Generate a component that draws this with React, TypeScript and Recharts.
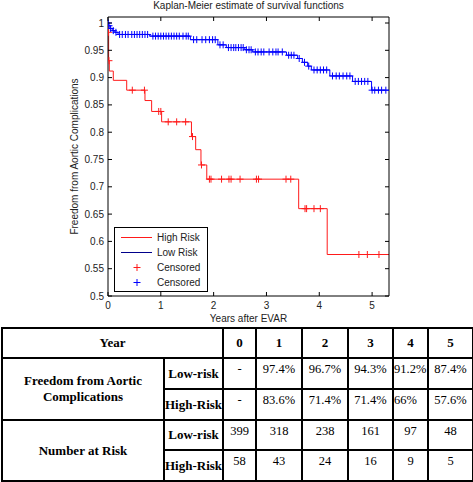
import React from 'react';
import { ComposedChart, Line, Scatter, XAxis, YAxis, Legend, Label } from 'recharts';

const yearTicks = [0, 1, 2, 3, 4, 5];
const survivalTicks = [0.5, 0.55, 0.6, 0.65, 0.7, 0.75, 0.8, 0.85, 0.9, 0.95, 1];

// Kaplan-Meier steps
const lowRiskTimes = [0, 0.01, 0.04, 0.08, 0.13, 0.19, 0.79, 1.56, 2.08, 2.24, 2.59, 2.74, 3.38, 3.59, 3.68, 3.78, 3.85, 4.2, 4.63, 4.99, 5.32];
const lowRiskSurv = [1, 0.995, 0.99, 0.986, 0.983, 0.979, 0.976, 0.9695, 0.96, 0.955, 0.951, 0.947, 0.941, 0.935, 0.928, 0.921, 0.914, 0.903, 0.893, 0.877, 0.877];

const highRiskTimes = [0, 0.005, 0.012, 0.025, 0.1, 0.354, 0.7, 0.826, 1.015, 1.58, 1.66, 1.76, 1.87, 3.61, 4.15, 5.32];
const highRiskSurv = [1, 0.983, 0.931, 0.912, 0.895, 0.877, 0.858, 0.838, 0.819, 0.792, 0.768, 0.74, 0.714, 0.66, 0.576, 0.576];

const lowRiskCensored = [
  0.006, 0.02, 0.05, 0.1, 0.15, 0.22, 0.27, 0.33, 0.38, 0.45, 0.5, 0.55, 0.6, 0.65, 0.7, 0.75,
  0.85, 0.9, 0.95, 1.0, 1.05, 1.1, 1.15, 1.2, 1.25, 1.3, 1.35, 1.42, 1.48, 1.52,
  1.62, 1.68, 1.78, 1.85, 1.92, 1.98, 2.03, 2.12, 2.18,
  2.28, 2.33, 2.38, 2.42, 2.47, 2.52, 2.56, 2.62, 2.67, 2.71,
  2.79, 2.84, 2.9, 2.95, 3.05, 3.12, 3.18, 3.22, 3.3, 3.42, 3.47, 3.52, 3.62, 3.72, 3.8,
  3.9, 3.96, 4.02, 4.08, 4.14, 4.25, 4.32, 4.38, 4.45, 4.52, 4.58,
  4.68, 4.74, 4.8, 4.86, 4.92, 5.0, 5.05, 5.12, 5.18, 5.26,
];
const highRiskCensored = [
  0.008, 0.018, 0.46, 0.69, 0.96, 1.0, 1.14, 1.3, 1.47, 1.6, 1.77, 1.92, 1.95, 2.15, 2.29, 2.33,
  2.5, 2.81, 2.85, 3.37, 3.46, 3.73, 3.76, 3.9, 4.02, 4.75, 4.91, 5.13,
];

const tableYears = ['0', '1', '2', '3', '4', '5'];
const freedomLow = ['-', '97.4%', '96.7%', '94.3%', '91.2%', '87.4%'];
const freedomHigh = ['-', '83.6%', '71.4%', '71.4%', '66%', '57.6%'];
const atRiskLow = ['399', '318', '238', '161', '97', '48'];
const atRiskHigh = ['58', '43', '24', '16', '9', '5'];

const RED = '#ff1a1a';
const BLUE = '#0000ff';
const SANS = '"Liberation Sans", Arial, sans-serif';
const SERIF = '"Liberation Serif", "Times New Roman", serif';

const stepAt = (times: number[], surv: number[], t: number) => {
  let v = surv[0];
  times.forEach((tt, i) => {
    if (tt <= t) v = surv[i];
  });
  return v;
};

const lowLine = lowRiskTimes.map((t, i) => ({ t, s: lowRiskSurv[i] }));
const highLine = highRiskTimes.map((t, i) => ({ t, s: highRiskSurv[i] }));
const lowCens = lowRiskCensored.map((t) => ({ t, s: stepAt(lowRiskTimes, lowRiskSurv, t) }));
const highCens = highRiskCensored.map((t) => ({ t, s: stepAt(highRiskTimes, highRiskSurv, t) }));

const legendItems = [
  { name: 'High Risk', color: RED, kind: 'line' },
  { name: 'Low Risk', color: '#00008b', kind: 'line' },
  { name: 'Censored', color: RED, kind: 'plus' },
  { name: 'Censored', color: BLUE, kind: 'plus' },
];

const Plus = (props: any) => {
  const { cx, cy, color } = props;
  return (
    <g stroke={color} strokeWidth={1}>
      <line x1={cx - 3.5} x2={cx + 3.5} y1={cy} y2={cy} />
      <line x1={cx} x2={cx} y1={cy - 3.5} y2={cy + 3.5} />
    </g>
  );
};

const BottomTick = ({ x, y, payload }: any) => (
  <g>
    <line x1={x} x2={x} y1={y} y2={y - 4} stroke="#000" />
    <text x={x} y={y + 13} textAnchor="middle" fontSize={10} fontFamily={SANS} fill="#222">
      {payload.value}
    </text>
  </g>
);

const LeftTick = ({ x, y, payload }: any) => (
  <g>
    <line x1={x} x2={x + 4} y1={y} y2={y} stroke="#000" />
    <text x={x - 4} y={y + 3.5} textAnchor="end" fontSize={10} fontFamily={SANS} fill="#222">
      {String(payload.value)}
    </text>
  </g>
);

const TopTick = ({ x, y }: any) => <line x1={x} x2={x} y1={y} y2={y + 4} stroke="#000" />;
const RightTick = ({ x, y }: any) => <line x1={x} x2={x - 4} y1={y} y2={y} stroke="#000" />;

const LegendBox = () => (
  <div
    style={{
      width: 94,
      height: 65,
      boxSizing: 'border-box',
      border: '1px solid #000',
      background: '#fff',
      fontFamily: SANS,
      fontSize: 10,
      color: '#222',
      paddingTop: 2,
    }}
  >
    {legendItems.map((item, i) => (
      <div key={i} style={{ display: 'flex', alignItems: 'center', height: 15 }}>
        <svg width={42} height={15} style={{ display: 'block' }}>
          {item.kind === 'line' ? (
            <line x1={6} x2={37} y1={7.5} y2={7.5} stroke={item.color} />
          ) : (
            <Plus cx={22} cy={7.5} color={item.color} />
          )}
        </svg>
        <span>{item.name}</span>
      </div>
    ))}
  </div>
);

const cell: React.CSSProperties = { border: '2px solid #000', padding: 0, textAlign: 'center' };
const head: React.CSSProperties = { ...cell, fontWeight: 'bold', fontSize: 13, verticalAlign: 'middle' };
const val: React.CSSProperties = { ...cell, fontSize: 12.5, verticalAlign: 'top', paddingTop: 3 };

export default function App() {
  return (
    <div style={{ position: 'relative', width: 473, height: 482, background: '#fff' }}>
      <style>{`body{margin:0}`}</style>
      <ComposedChart width={473} height={325} margin={{ top: 16, right: 83, bottom: 9, left: 68 }}>
        <XAxis
          xAxisId="b"
          dataKey="t"
          type="number"
          domain={[0, 5.32]}
          ticks={yearTicks}
          allowDataOverflow
          height={20}
          tickSize={0}
          tickMargin={0}
          tickLine={false}
          axisLine={{ stroke: '#000' }}
          tick={<BottomTick />}
        >
          <Label
            content={({ viewBox }: any) => (
              <text x={viewBox.x + viewBox.width / 2} y={viewBox.y + 26} textAnchor="middle" fontSize={10} fontFamily={SANS} fill="#222">
                Years after EVAR
              </text>
            )}
          />
        </XAxis>
        <XAxis
          xAxisId="top"
          orientation="top"
          dataKey="t"
          type="number"
          domain={[0, 5.32]}
          ticks={yearTicks}
          allowDataOverflow
          height={1}
          tickSize={0}
          tickMargin={0}
          tickLine={false}
          axisLine={{ stroke: '#000' }}
          tick={<TopTick />}
        >
          <Label
            content={({ viewBox }: any) => (
              <text x={viewBox.x + viewBox.width / 2} y={9} textAnchor="middle" fontSize={10} fontFamily={SANS} fill="#222">
                Kaplan-Meier estimate of survival functions
              </text>
            )}
          />
        </XAxis>
        <YAxis
          yAxisId="l"
          dataKey="s"
          type="number"
          domain={[0.5, 1.011]}
          ticks={survivalTicks}
          allowDataOverflow
          width={40}
          tickSize={0}
          tickMargin={0}
          tickLine={false}
          axisLine={{ stroke: '#000' }}
          tick={<LeftTick />}
        >
          <Label
            content={({ viewBox }: any) => {
              const cx = viewBox.x + 6;
              const cy = viewBox.y + viewBox.height / 2;
              return (
                <text x={cx} y={cy} transform={`rotate(-90 ${cx} ${cy})`} textAnchor="middle" dominantBaseline="central" fontSize={10} fontFamily={SANS} fill="#222">
                  Freedom from Aortic Complications
                </text>
              );
            }}
          />
        </YAxis>
        <YAxis
          yAxisId="r"
          orientation="right"
          dataKey="s"
          type="number"
          domain={[0.5, 1.011]}
          ticks={survivalTicks}
          allowDataOverflow
          width={1}
          tickSize={0}
          tickMargin={0}
          tickLine={false}
          axisLine={{ stroke: '#000' }}
          tick={<RightTick />}
        />
        <Line xAxisId="b" yAxisId="l" data={highLine} dataKey="s" type="stepAfter" stroke={RED} strokeWidth={1} dot={false} isAnimationActive={false} />
        <Line xAxisId="b" yAxisId="l" data={lowLine} dataKey="s" type="stepAfter" stroke={BLUE} strokeWidth={1} dot={false} isAnimationActive={false} />
        <Scatter xAxisId="top" yAxisId="r" data={highCens} dataKey="s" shape={(p: any) => <Plus cx={p.cx} cy={p.cy} color={RED} />} isAnimationActive={false} />
        <Scatter xAxisId="top" yAxisId="r" data={lowCens} dataKey="s" shape={(p: any) => <Plus cx={p.cx} cy={p.cy} color={BLUE} />} isAnimationActive={false} />
        <Legend
          layout="vertical"
          align="center"
          verticalAlign="middle"
          wrapperStyle={{ left: 114, top: 227, width: 94, height: 65 }}
          content={() => <LegendBox />}
        />
      </ComposedChart>
      <table
        style={{
          position: 'absolute',
          left: 1,
          top: 327,
          width: 471,
          borderCollapse: 'collapse',
          tableLayout: 'fixed',
          fontFamily: SERIF,
          color: '#000',
        }}
      >
        <colgroup>
          {[162, 59, 33, 46, 46, 45, 35, 45].map((w, i) => (
            <col key={i} style={{ width: w }} />
          ))}
        </colgroup>
        <tbody>
          <tr style={{ height: 30 }}>
            <td colSpan={2} style={head}>Year</td>
            {tableYears.map((y) => (
              <td key={y} style={head}>{y}</td>
            ))}
          </tr>
          <tr style={{ height: 31 }}>
            <td rowSpan={2} style={{ ...head, lineHeight: '16px' }}>
              Freedom from Aortic
              <br />
              Complications
            </td>
            <td style={head}>Low-risk</td>
            {freedomLow.map((v, i) => (
              <td key={i} style={i === 4 ? { ...val, textAlign: 'left' } : val}>{v}</td>
            ))}
          </tr>
          <tr style={{ height: 31 }}>
            <td style={{ ...head, whiteSpace: 'nowrap' }}>High-Risk</td>
            {freedomHigh.map((v, i) => (
              <td key={i} style={i === 4 ? { ...val, textAlign: 'left' } : val}>{v}</td>
            ))}
          </tr>
          <tr style={{ height: 30 }}>
            <td rowSpan={2} style={head}>Number at Risk</td>
            <td style={head}>Low-risk</td>
            {atRiskLow.map((v, i) => (
              <td key={i} style={val}>{v}</td>
            ))}
          </tr>
          <tr style={{ height: 31 }}>
            <td style={{ ...head, whiteSpace: 'nowrap' }}>High-Risk</td>
            {atRiskHigh.map((v, i) => (
              <td key={i} style={val}>{v}</td>
            ))}
          </tr>
        </tbody>
      </table>
    </div>
  );
}
